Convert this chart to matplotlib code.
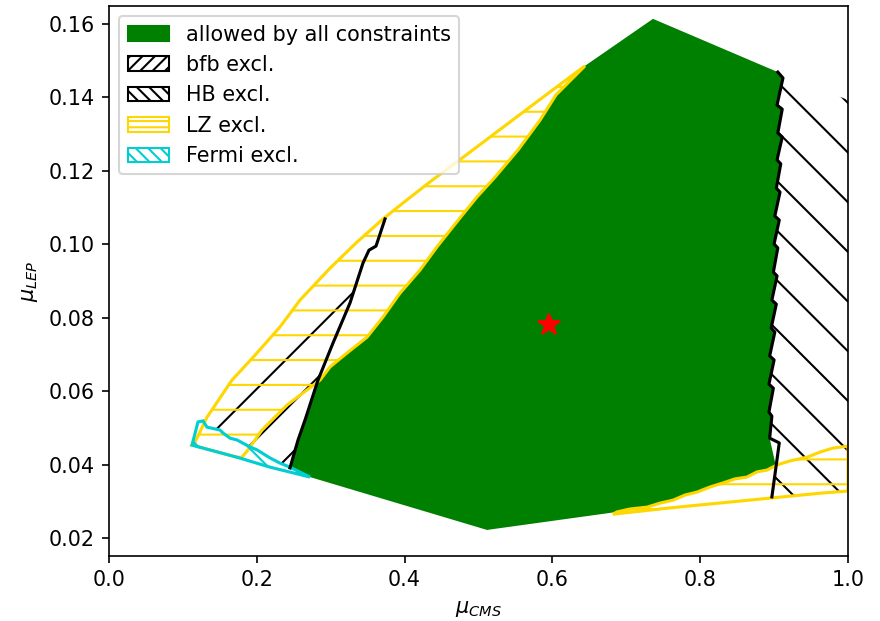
import numpy as np
import matplotlib.pyplot as plt
from matplotlib.patches import Patch

# outer edge of the LZ band, bottom to top
out_x = np.array([0.1164, 0.1326, 0.1664, 0.1976, 0.2314, 0.2585, 0.2991, 0.3356,
                  0.3708, 0.4032, 0.4344, 0.4885, 0.5426, 0.5968, 0.6441])
out_y = np.array([0.0461, 0.0529, 0.0630, 0.0698, 0.0775, 0.0848, 0.0935, 0.1006,
                  0.1069, 0.1121, 0.1170, 0.1251, 0.1333, 0.1415, 0.1486])

# inner edge of the LZ band, top to bottom
in_x = np.array([0.6441, 0.6049, 0.5832, 0.5535, 0.5224, 0.4980, 0.4750, 0.4438,
                 0.4209, 0.3938, 0.3708, 0.3491, 0.3221, 0.2991, 0.2855, 0.2409,
                 0.2070, 0.1881, 0.1800])
in_y = np.array([0.1486, 0.1407, 0.1338, 0.1257, 0.1183, 0.1129, 0.1072, 0.0993,
                 0.0930, 0.0867, 0.0802, 0.0747, 0.0704, 0.0666, 0.0630, 0.0562,
                 0.0494, 0.0440, 0.0420])

# bfb boundary, bottom to top
bfb_x = np.array([0.2449, 0.2558, 0.2652, 0.2828, 0.3031, 0.3261, 0.3437, 0.3518, 0.3613, 0.3735])
bfb_y = np.array([0.0391, 0.0467, 0.0521, 0.0630, 0.0731, 0.0840, 0.0949, 0.0984, 0.0995, 0.1069])

# HB boundary, top to bottom
hb_x = np.array([0.905, 0.912, 0.904, 0.911, 0.905, 0.911, 0.904, 0.909, 0.903, 0.908,
                 0.901, 0.907, 0.900, 0.905, 0.899, 0.904, 0.897, 0.903, 0.896, 0.901,
                 0.894, 0.900, 0.893, 0.899, 0.893, 0.897, 0.894, 0.907, 0.897])
hb_y = np.array([0.1469, 0.1453, 0.1379, 0.1368, 0.1303, 0.1292, 0.1230, 0.1219, 0.1153, 0.1142,
                 0.1077, 0.1066, 0.1001, 0.0990, 0.0924, 0.0914, 0.0848, 0.0837, 0.0772, 0.0761,
                 0.0696, 0.0685, 0.0619, 0.0608, 0.0543, 0.0532, 0.0472, 0.0459, 0.0312])

# lower right LZ band: upper and lower edges, left to right
lzu_x = np.array([0.6874, 0.7050, 0.7280, 0.7456, 0.7632, 0.7794, 0.7957, 0.8133, 0.8309, 0.8471,
                  0.8633, 0.8769, 0.8904, 0.9039, 0.9215, 0.9445, 0.9621, 0.9797, 1.0])
lzu_y = np.array([0.0271, 0.0279, 0.0284, 0.0295, 0.0303, 0.0317, 0.0325, 0.0339, 0.0350, 0.0361,
                  0.0366, 0.0380, 0.0385, 0.0399, 0.0410, 0.0420, 0.0434, 0.0445, 0.0450])
lzl_x = np.array([0.6820, 0.7186, 0.7591, 0.7997, 0.8403, 0.8809, 0.9215, 0.9621, 1.0])
lzl_y = np.array([0.0265, 0.0273, 0.0282, 0.0290, 0.0298, 0.0306, 0.0314, 0.0322, 0.0328])

# Fermi band: upper and lower edges, left to right
fu_x = np.array([0.1204, 0.1272, 0.1326, 0.1502, 0.1543, 0.1637, 0.1732, 0.1908,
                 0.2003, 0.2179, 0.2314, 0.2449])
fu_y = np.array([0.0516, 0.0519, 0.0502, 0.0494, 0.0486, 0.0472, 0.0467, 0.0448,
                 0.0440, 0.0418, 0.0404, 0.0393])
fl_x = np.array([0.1123, 0.1732, 0.2179, 0.2720])
fl_y = np.array([0.0453, 0.0420, 0.0393, 0.0366])

# corners of the scanned region
peak = (0.7361, 0.1614)
bottom = (0.5115, 0.0222)
hb_corner = (1.0, 0.1393)
hb_lz_cross = (0.9025, 0.0395)
bfb_lz_cross = 0.063

# benchmark point
bp_x, bp_y = 0.595, 0.078

fig = plt.figure(figsize=(881 / 149, 621 / 149), dpi=149)
ax = fig.add_axes([109 / 881, 65 / 621, 739 / 881, 550 / 621])

# allowed region
gx = np.concatenate([[in_x[0], peak[0]], hb_x[:-2], [hb_lz_cross[0]],
                     lzu_x[lzu_x < hb_lz_cross[0]][::-1], [bottom[0], fl_x[-1]],
                     bfb_x[bfb_y <= bfb_lz_cross], in_x[in_y >= bfb_lz_cross][::-1]])
gy = np.concatenate([[in_y[0], peak[1]], hb_y[:-2], [hb_lz_cross[1]],
                     lzu_y[lzu_x < hb_lz_cross[0]][::-1], [bottom[1], fl_y[-1]],
                     bfb_y[bfb_y <= bfb_lz_cross], in_y[in_y >= bfb_lz_cross][::-1]])
ax.fill(gx, gy, color='green', lw=0, zorder=1)

# bfb excluded
top = out_y <= bfb_y[-1] + 1e-4
bx = np.concatenate([out_x[top], bfb_x[::-1], fu_x[::-1]])
by = np.concatenate([out_y[top], bfb_y[::-1], fu_y[::-1]])
ax.fill(bx, by, facecolor='none', edgecolor='black', lw=0, hatch='/', zorder=2)

# HB excluded
sel = lzl_x > hb_x[-1]
hx = np.concatenate([[hb_x[0], hb_corner[0], 1.0], lzl_x[sel][::-1], hb_x[::-1]])
hy = np.concatenate([[hb_y[0], hb_corner[1], lzl_y[-1]], lzl_y[sel][::-1], hb_y[::-1]])
ax.fill(hx, hy, facecolor='none', edgecolor='black', lw=0, hatch='\\', zorder=2)

# LZ excluded (two bands)
sel = fl_x < in_x[-1]
lx = np.concatenate([out_x, in_x, fl_x[sel][::-1]])
ly = np.concatenate([out_y, in_y, fl_y[sel][::-1]])
ax.fill(lx, ly, facecolor='none', edgecolor='gold', lw=1.5, hatch='-', zorder=2)
ax.fill(np.concatenate([lzu_x, lzl_x[::-1]]), np.concatenate([lzu_y, lzl_y[::-1]]),
        facecolor='none', edgecolor='gold', lw=1.5, hatch='-', zorder=2)

# Fermi excluded
ax.fill(np.concatenate([fu_x, fl_x[::-1]]), np.concatenate([fu_y, fl_y[::-1]]),
        facecolor='none', edgecolor='darkturquoise', lw=1.5, hatch='\\', zorder=2)

ax.plot(bfb_x, bfb_y, 'k-', zorder=3)
ax.plot(hb_x, hb_y, 'k-', zorder=3)
ax.plot(bp_x, bp_y, '*', color='red', ms=11, zorder=4)

ax.set_xlim(0, 1.0)
ax.set_ylim(0.0151, 0.1649)
ax.set_yticks(np.arange(0.02, 0.161, 0.02))
ax.set_xlabel(r'$\mu_{CMS}$')
ax.set_ylabel(r'$\mu_{LEP}$')

handles = [Patch(facecolor='green', edgecolor='green', label='allowed by all constraints'),
           Patch(facecolor='none', edgecolor='black', hatch='////', label='bfb excl.'),
           Patch(facecolor='none', edgecolor='black', hatch='\\\\\\\\', label='HB excl.'),
           Patch(facecolor='none', edgecolor='gold', hatch='----', label='LZ excl.'),
           Patch(facecolor='none', edgecolor='darkturquoise', hatch='\\\\\\\\', label='Fermi excl.')]
ax.legend(handles=handles, loc='upper left')

fig.savefig('out.png', dpi=149)
